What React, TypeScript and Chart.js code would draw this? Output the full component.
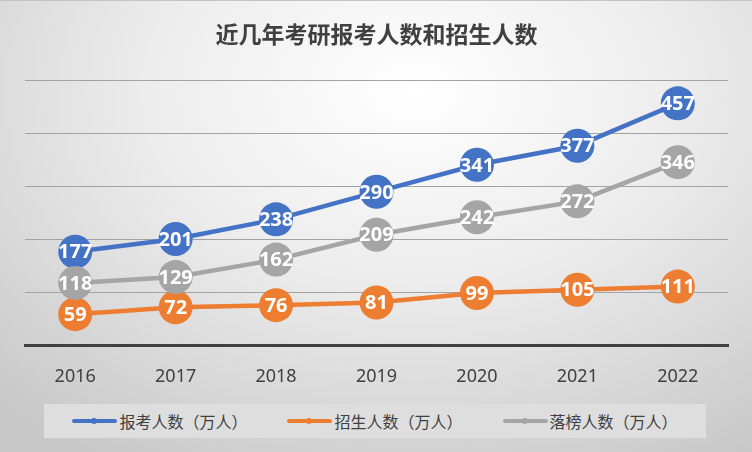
import React, { useEffect, useRef } from 'react';
import { Chart, registerables } from 'chart.js';

Chart.register(...registerables);

const chartTitle = '近几年考研报考人数和招生人数';
const years = ['2016', '2017', '2018', '2019', '2020', '2021', '2022'];
const applicants = [177, 201, 238, 290, 341, 377, 457];
const admitted = [59, 72, 76, 81, 99, 105, 111];
const rejected = [118, 129, 162, 209, 242, 272, 346];
const seriesNames = ['报考人数（万人）', '招生人数（万人）', '落榜人数（万人）'];
const seriesColors = ['#4472C4', '#ED7D31', '#A5A5A5'];
const yMin = 0;
const yMax = 500;
const yStep = 100;

const pointLabelPlugin = {
  id: 'pointLabels',
  afterDatasetsDraw(chart: any) {
    const ctx = chart.ctx;
    ctx.save();
    ctx.font = 'bold 20px "Open Sans", "Noto Sans", sans-serif';
    ctx.fillStyle = '#ffffff';
    ctx.textAlign = 'center';
    ctx.textBaseline = 'middle';
    chart.data.datasets.forEach((ds: any, i: number) => {
      const meta = chart.getDatasetMeta(i);
      meta.data.forEach((pt: any, j: number) => {
        ctx.fillText(String(ds.data[j]), pt.x, pt.y + 1);
      });
    });
    ctx.restore();
  },
};

export default function App() {
  const canvasRef = useRef<HTMLCanvasElement | null>(null);

  useEffect(() => {
    if (!canvasRef.current) return;
    const allData = [applicants, admitted, rejected];
    const orders = [3, 2, 1];
    const chart = new Chart(canvasRef.current, {
      type: 'line',
      data: {
        labels: years,
        datasets: allData.map((d, i) => ({
          label: seriesNames[i],
          data: d,
          borderColor: seriesColors[i],
          backgroundColor: seriesColors[i],
          pointBackgroundColor: seriesColors[i],
          pointBorderWidth: 0,
          pointRadius: 17,
          pointHoverRadius: 17,
          borderWidth: 4.5,
          tension: 0,
          fill: false,
          order: orders[i],
        })),
      },
      options: {
        responsive: false,
        animation: false,
        events: [],
        layout: { padding: { left: 25, right: 24, top: 0, bottom: 43 } },
        plugins: {
          legend: { display: false },
          tooltip: { enabled: false },
          title: {
            display: true,
            text: chartTitle,
            color: '#404040',
            font: { family: '"Noto Sans CJK SC", sans-serif', size: 23, weight: 'bold' },
            padding: { top: 20, bottom: 33 },
          },
        },
        scales: {
          x: {
            offset: true,
            grid: { display: false, drawTicks: false },
            border: { display: true, color: '#404040', width: 3 },
            ticks: {
              color: '#404040',
              font: { family: '"Noto Sans", sans-serif', size: 18 },
              padding: 21,
            },
          },
          y: {
            min: yMin,
            max: yMax,
            grid: { color: '#a3a3a3', lineWidth: 1, drawTicks: false },
            border: { display: false },
            ticks: { display: false, stepSize: yStep },
          },
        },
      },
      plugins: [pointLabelPlugin],
    });
    return () => chart.destroy();
  }, []);

  return (
    <div
      style={{
        position: 'absolute',
        left: 0,
        top: 0,
        width: 752,
        height: 452,
        overflow: 'hidden',
        background:
          'radial-gradient(ellipse 80% 95% at 55% 20%, #ffffff 0%, #ececec 45%, #c8c8c8 100%)',
        borderTop: '1px solid #c4c4c4',
        boxSizing: 'border-box',
      }}
    >
      <canvas ref={canvasRef} width={752} height={452} style={{ position: 'absolute', left: 0, top: -1 }} />
      <div
        style={{
          position: 'absolute',
          left: 44,
          top: 403,
          width: 662,
          height: 34,
          background: '#dedede',
          display: 'flex',
          alignItems: 'center',
          justifyContent: 'center',
          gap: 40,
        }}
      >
        {seriesNames.map((name, i) => (
          <div key={name} style={{ display: 'flex', alignItems: 'center' }}>
            <span
              style={{
                position: 'relative',
                display: 'inline-block',
                width: 45,
                height: 4,
                borderRadius: 2,
                background: seriesColors[i],
                marginRight: 2,
              }}
            >
              <span
                style={{
                  position: 'absolute',
                  left: 19,
                  top: -1,
                  width: 6,
                  height: 6,
                  borderRadius: 3,
                  background: seriesColors[i],
                }}
              />
            </span>
            <span
              style={{
                font: '16px "Noto Sans CJK SC", sans-serif',
                color: '#404040',
                lineHeight: '20px',
                whiteSpace: 'nowrap',
              }}
            >
              {name}
            </span>
          </div>
        ))}
      </div>
    </div>
  );
}
